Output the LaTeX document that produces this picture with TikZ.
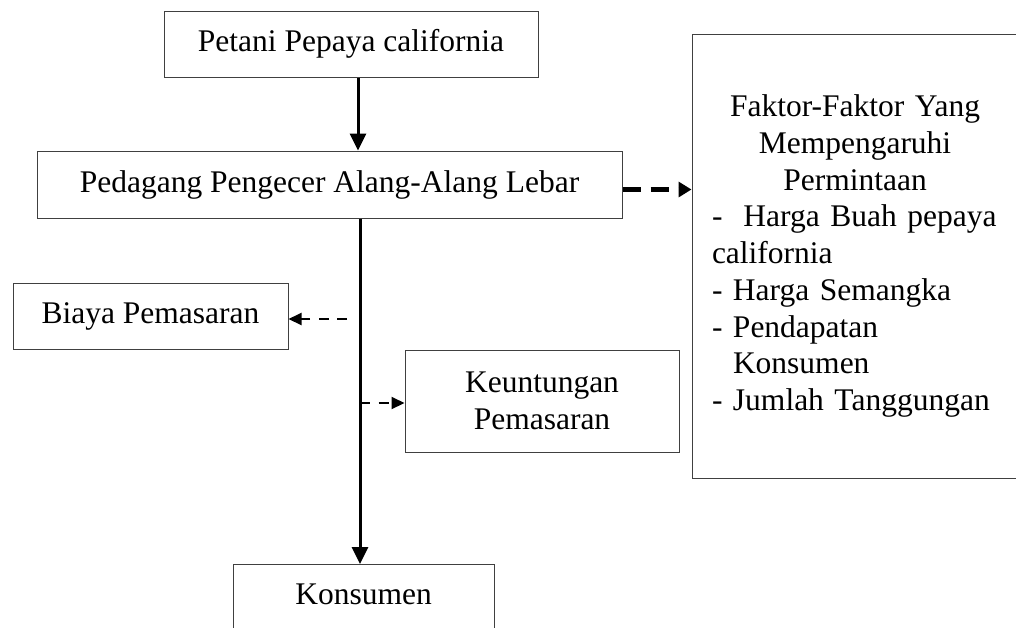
\documentclass[tikz,border=0pt]{standalone}
\usepackage{fontspec}
\setmainfont{Liberation Serif}
\usetikzlibrary{arrows.meta,positioning,calc}
\tikzset{
  sc/base/.style={draw=black!75, line width=1pt, align=center,
    font=\fontsize{31.5}{36.75}\selectfont, inner sep=0pt},
  sc/flow/.style={-{Triangle[length=17pt,width=16pt]}, draw=black,
    line width=3pt},
  sc/dashthick/.style={-{Triangle[length=13pt,width=15pt]}, draw=black,
    line width=4.5pt, dash pattern=on 18pt off 10pt},
  sc/dashthin/.style={-{Triangle[length=13pt,width=12pt]}, draw=black,
    line width=2pt, dash pattern=on 10pt off 8.5pt},
}

\begin{document}
\begin{tikzpicture}[x=1pt, y=-1pt]
\useasboundingbox (0,0) rectangle (1016,627);

% pixel coordinates, y pointing down
\node[sc/base, minimum width=374pt, minimum height=66pt] (petani) at (351,44) {Petani Pepaya california};
\node[sc/base, minimum width=585pt, minimum height=67pt] (pedagang) at (329.5,184.5) {Pedagang Pengecer Alang-Alang Lebar};
\node[sc/base, minimum width=275pt, minimum height=66pt] (biaya) at (150.5,316) {Biaya Pemasaran};
\node[sc/base, minimum width=274pt, minimum height=102pt] (untung) at (542,401) {Keuntungan\\Pemasaran};
\node[sc/base, minimum width=261pt, minimum height=100pt, text depth=40pt, anchor=north] (konsumen) at (363.5,564) {Konsumen};
\node[sc/base, align=left, text width=286pt, inner xsep=20pt, minimum height=444pt] (faktor) at (855,256) {%
  {\centering Faktor-Faktor Yang\\Mempengaruhi\\Permintaan\par}%
  \raggedright -\ \ Harga Buah pepaya\\california\\- Harga Semangka\\- Pendapatan\\\hphantom{-}\ Konsumen\\- Jumlah Tanggungan};

\coordinate (spine) at (360,0);
\coordinate (biayaTail) at (347,319);

\draw[sc/flow] ([xshift=7pt]petani.south) -- ([xshift=7pt]petani.south |- pedagang.north);
\draw[sc/flow] (pedagang.south -| spine) -- (konsumen.north -| spine);
\draw[sc/dashthick] ([yshift=-5pt]pedagang.east) -- ([yshift=-5pt]pedagang.east -| faktor.west);
\draw[sc/dashthin] (biayaTail) -- (biayaTail -| biaya.east);
\draw[sc/dashthin] ([yshift=-2pt]untung.west -| spine) -- ([yshift=-2pt]untung.west);
\end{tikzpicture}
\end{document}
